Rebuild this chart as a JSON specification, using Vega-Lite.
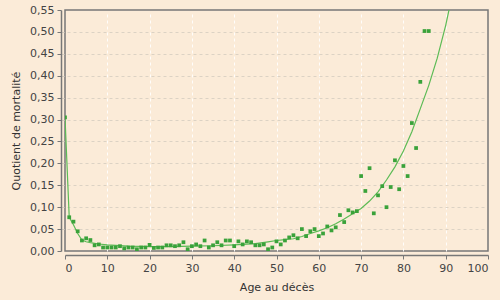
{
  "$schema": "https://vega.github.io/schema/vega-lite/v6.json",
  "autosize": "none",
  "width": 423,
  "height": 241,
  "padding": {"left": 65, "top": 10, "right": 12, "bottom": 49},
  "background": "#FBEBD8",
  "datasets": {
    "obs": [
      {"age": 0, "q": 0.305}, {"age": 1, "q": 0.077}, {"age": 2, "q": 0.067}, {"age": 3, "q": 0.045},
      {"age": 4, "q": 0.024}, {"age": 5, "q": 0.029}, {"age": 6, "q": 0.025}, {"age": 7, "q": 0.013},
      {"age": 8, "q": 0.015}, {"age": 9, "q": 0.008}, {"age": 10, "q": 0.008}, {"age": 11, "q": 0.008},
      {"age": 12, "q": 0.008}, {"age": 13, "q": 0.011}, {"age": 14, "q": 0.006}, {"age": 15, "q": 0.008},
      {"age": 16, "q": 0.008}, {"age": 17, "q": 0.004}, {"age": 18, "q": 0.008}, {"age": 19, "q": 0.008},
      {"age": 20, "q": 0.014}, {"age": 21, "q": 0.007}, {"age": 22, "q": 0.008}, {"age": 23, "q": 0.008},
      {"age": 24, "q": 0.013}, {"age": 25, "q": 0.013}, {"age": 26, "q": 0.011}, {"age": 27, "q": 0.013},
      {"age": 28, "q": 0.020}, {"age": 29, "q": 0.004}, {"age": 30, "q": 0.011}, {"age": 31, "q": 0.015},
      {"age": 32, "q": 0.011}, {"age": 33, "q": 0.024}, {"age": 34, "q": 0.008}, {"age": 35, "q": 0.013},
      {"age": 36, "q": 0.020}, {"age": 37, "q": 0.013}, {"age": 38, "q": 0.024}, {"age": 39, "q": 0.024},
      {"age": 40, "q": 0.011}, {"age": 41, "q": 0.022}, {"age": 42, "q": 0.015}, {"age": 43, "q": 0.022},
      {"age": 44, "q": 0.020}, {"age": 45, "q": 0.013}, {"age": 46, "q": 0.013}, {"age": 47, "q": 0.015},
      {"age": 48, "q": 0.004}, {"age": 49, "q": 0.008}, {"age": 50, "q": 0.022}, {"age": 51, "q": 0.015},
      {"age": 52, "q": 0.024}, {"age": 53, "q": 0.031}, {"age": 54, "q": 0.036}, {"age": 55, "q": 0.029},
      {"age": 56, "q": 0.050}, {"age": 57, "q": 0.034}, {"age": 58, "q": 0.045}, {"age": 59, "q": 0.050},
      {"age": 60, "q": 0.034}, {"age": 61, "q": 0.040}, {"age": 62, "q": 0.056}, {"age": 63, "q": 0.047},
      {"age": 64, "q": 0.054}, {"age": 65, "q": 0.082}, {"age": 66, "q": 0.066}, {"age": 67, "q": 0.093},
      {"age": 68, "q": 0.088}, {"age": 69, "q": 0.091}, {"age": 70, "q": 0.171}, {"age": 71, "q": 0.137},
      {"age": 72, "q": 0.189}, {"age": 73, "q": 0.086}, {"age": 74, "q": 0.127}, {"age": 75, "q": 0.148},
      {"age": 76, "q": 0.100}, {"age": 77, "q": 0.146}, {"age": 78, "q": 0.207}, {"age": 79, "q": 0.141},
      {"age": 80, "q": 0.194}, {"age": 81, "q": 0.171}, {"age": 82, "q": 0.292}, {"age": 83, "q": 0.235},
      {"age": 84, "q": 0.386}, {"age": 85, "q": 0.502}, {"age": 86, "q": 0.502}
    ],
    "fit": [
      {"age": 0, "q": 0.305}, {"age": 1, "q": 0.077}, {"age": 2, "q": 0.060}, {"age": 3, "q": 0.040},
      {"age": 4, "q": 0.025}, {"age": 5, "q": 0.021}, {"age": 6, "q": 0.019}, {"age": 8, "q": 0.016},
      {"age": 10, "q": 0.014}, {"age": 15, "q": 0.011}, {"age": 20, "q": 0.010}, {"age": 25, "q": 0.010},
      {"age": 30, "q": 0.011}, {"age": 35, "q": 0.012}, {"age": 40, "q": 0.014}, {"age": 45, "q": 0.017},
      {"age": 48, "q": 0.021}, {"age": 50, "q": 0.024}, {"age": 52, "q": 0.026}, {"age": 54, "q": 0.028},
      {"age": 56, "q": 0.033}, {"age": 58, "q": 0.040}, {"age": 60, "q": 0.046}, {"age": 62, "q": 0.053},
      {"age": 64, "q": 0.062}, {"age": 66, "q": 0.073}, {"age": 68, "q": 0.085}, {"age": 70, "q": 0.097},
      {"age": 72, "q": 0.114}, {"age": 74, "q": 0.135}, {"age": 76, "q": 0.162}, {"age": 78, "q": 0.192},
      {"age": 80, "q": 0.228}, {"age": 82, "q": 0.272}, {"age": 84, "q": 0.325}, {"age": 86, "q": 0.378},
      {"age": 88, "q": 0.440}, {"age": 90, "q": 0.515}, {"age": 91, "q": 0.560}
    ]
  },
  "config": {
    "view": {"stroke": "#777777", "strokeWidth": 1.5},
    "font": "DejaVu Sans",
    "axis": {
      "labelFont": "DejaVu Sans",
      "labelFontSize": 11,
      "labelColor": "#444444",
      "labelOverlap": false,
      "titleFont": "DejaVu Sans",
      "titleFontSize": 11,
      "titleFontWeight": "normal",
      "titleColor": "#333333",
      "domainColor": "#777777",
      "domainWidth": 1.5,
      "tickColor": "#777777",
      "tickSize": 4,
      "labelPadding": 3,
      "offset": 4,
      "gridDash": [3, 3]
    }
  },
  "encoding": {
    "x": {"field": "age", "type": "quantitative", "scale": {"domain": [0, 100], "nice": false},
      "axis": {"title": "Age au décès", "values": [0,10,20,30,40,50,60,70,80,90,100], "gridColor": "#ffffff",
        "gridOpacity": {"condition": {"test": "datum.value == 0 || datum.value == 100", "value": 0}, "value": 0.9},
        "titlePadding": 8}},
    "y": {"field": "q", "type": "quantitative", "scale": {"domain": [0, 0.55], "nice": false},
      "axis": {"title": "Quotient de mortalité", "values": [0,0.05,0.1,0.15,0.2,0.25,0.3,0.35,0.4,0.45,0.5,0.55],
        "labelExpr": "replace(format(datum.value, '.2f'), '.', ',')", "gridColor": "#dcd2c4",
        "gridOpacity": {"condition": {"test": "datum.value < 0.001 || datum.value > 0.549", "value": 0}, "value": 1},
        "titlePadding": 8}}
  },
  "layer": [
    {
      "data": {"name": "fit"},
      "mark": {"type": "line", "color": "#5cbb55", "strokeWidth": 1.2, "clip": true}
    },
    {
      "data": {"name": "obs"},
      "mark": {"type": "square", "color": "#3aa23a", "opacity": 1, "size": 14, "filled": true, "clip": true}
    }
  ]
}
